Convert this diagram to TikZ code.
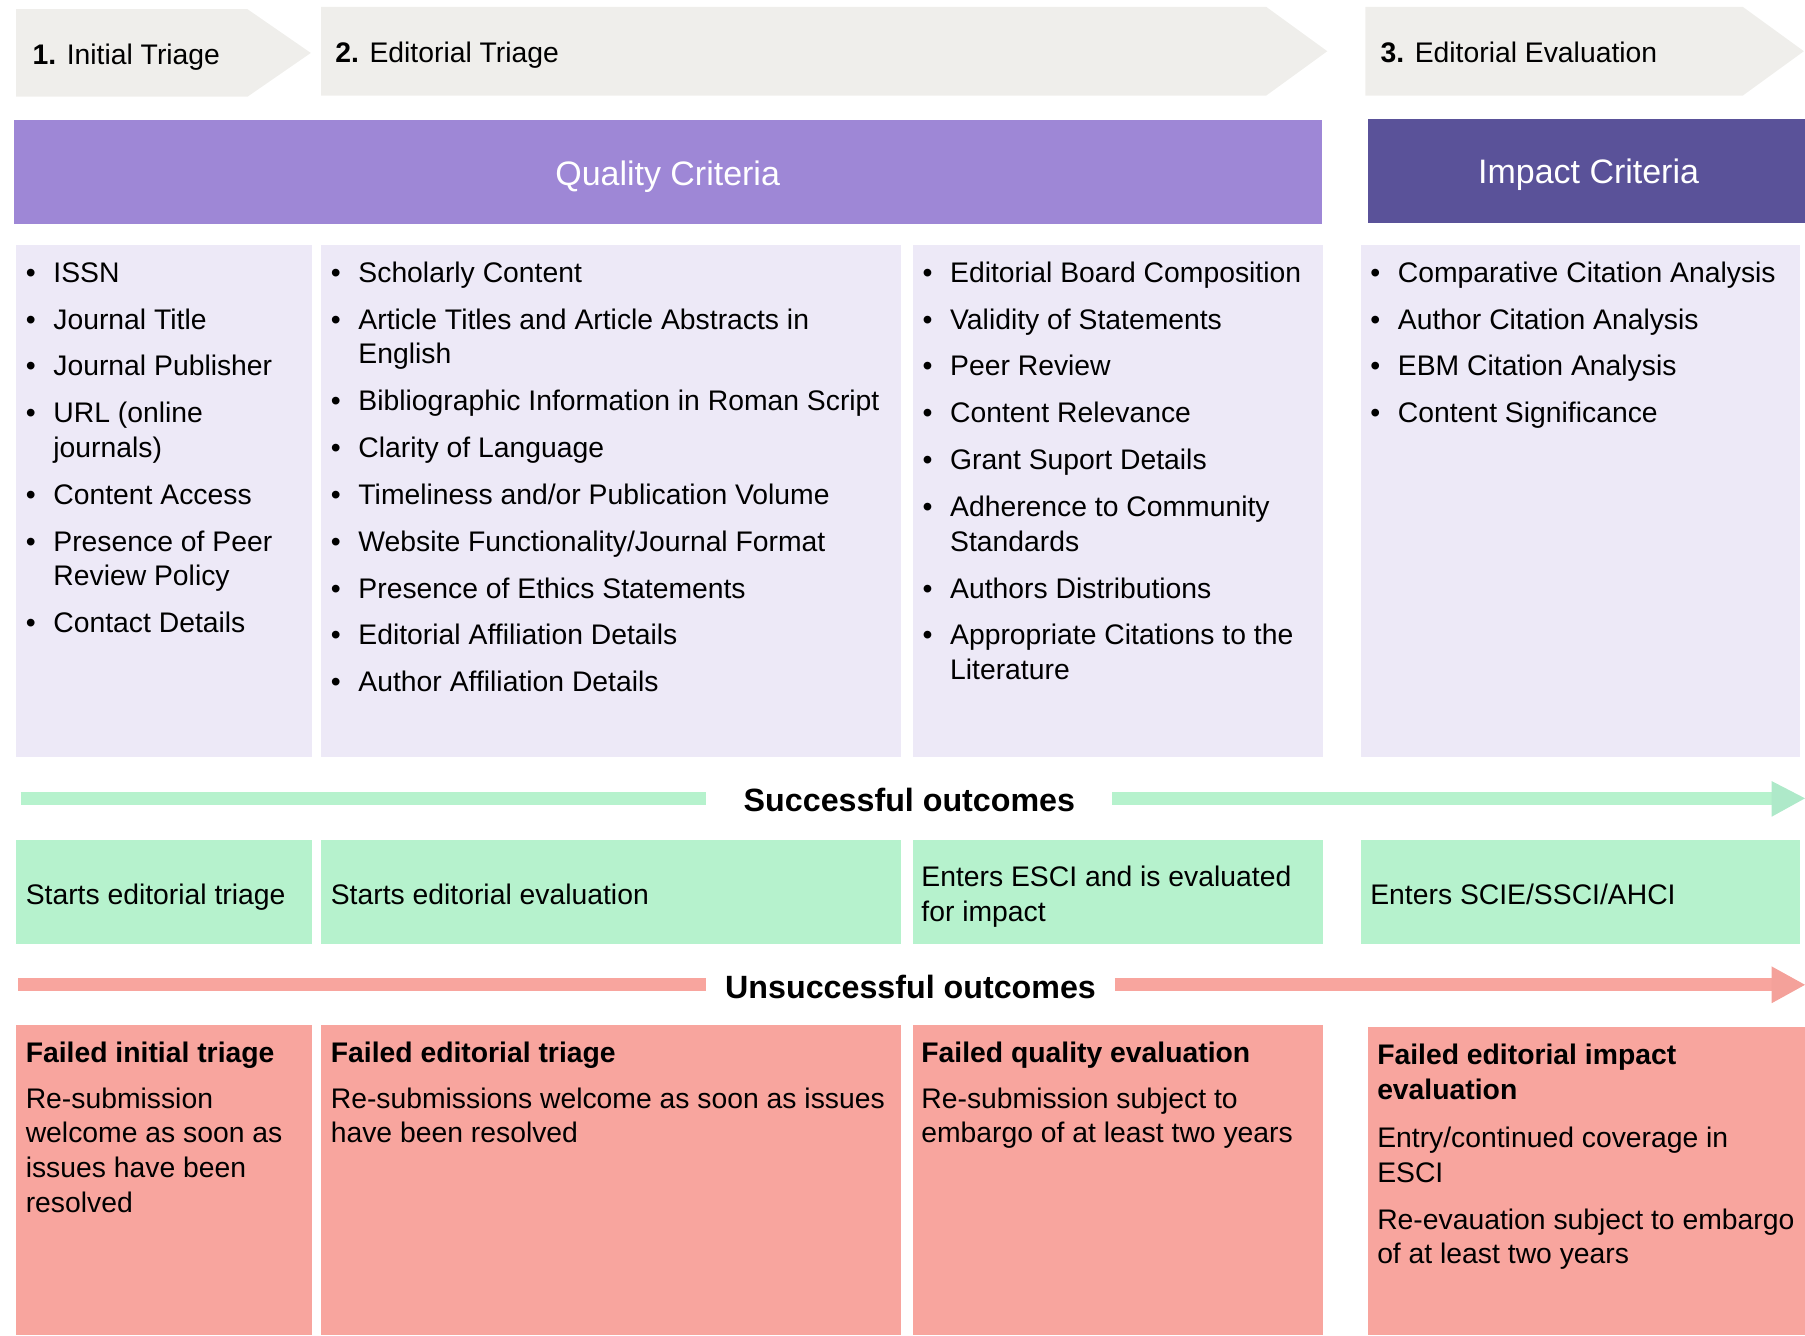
\documentclass[tikz,border=0pt]{standalone}
\usepackage{fontspec}
\setmainfont{Liberation Sans}
\definecolor{chev}{HTML}{EFEEEB}
\definecolor{qual}{HTML}{9E87D6}
\definecolor{imp}{HTML}{5A5299}
\definecolor{lav}{HTML}{EDE9F7}
\definecolor{grn}{HTML}{B6F2CD}
\definecolor{grnhead}{HTML}{AEE9C9}
\definecolor{rd}{HTML}{F8A59E}
\definecolor{rdhead}{HTML}{F4A19A}
\newcommand{\bi}{\makebox[12pt][l]{\textbullet}}
\newcommand{\bc}{\hspace*{12pt}}
\newcommand{\ig}{\\[5.37pt]}
\begin{document}
\begin{tikzpicture}[x=0.5pt,y=-0.5pt,
  txt/.style={font=\fontsize{12.3}{15}\selectfont, inner sep=0pt, align=left, text=black},
  hdr/.style={font=\fontsize{14.75}{18}\selectfont, inner sep=0pt, text=white},
  outl/.style={font=\fontsize{14}{17}\selectfont\bfseries, inner ysep=0pt, inner xsep=16pt, text=black},
  gbar/.style={draw=grn, line width=5.5pt},
  rbar/.style={draw=rd, line width=5.5pt}]
\useasboundingbox (0,0) rectangle (1568,1160);

% stage chevrons
\fill[chev] (14,8) -- (215,8) -- (270,46) -- (215,84) -- (14,84) -- cycle;
\fill[chev] (279,6) -- (1100,6) -- (1153,44.5) -- (1100,83) -- (279,83) -- cycle;
\fill[chev] (1186,6) -- (1514,6) -- (1567,44.5) -- (1514,83) -- (1186,83) -- cycle;
\node[txt, anchor=base west] (s1) at (28,56) {\textbf{1.} Initial Triage};
\node[txt, anchor=base west] (s2) at (291,54.5) {\textbf{2.} Editorial Triage};
\node[txt, anchor=base west] (s3) at (1199,54.5) {\textbf{3.} Editorial Evaluation};

% criteria headers
\fill[qual] (12,104) rectangle (1148,195);
\fill[imp] (1188,103) rectangle (1568,194);
\node[hdr, anchor=base] (qc) at (580,161.5) {Quality Criteria};
\node[hdr, anchor=base] (ic) at (1380,159.5) {Impact Criteria};

% criteria boxes
\fill[lav] (14,213) rectangle (271,658);
\fill[lav] (279,213) rectangle (783,658);
\fill[lav] (793,213) rectangle (1149,658);
\fill[lav] (1182,213) rectangle (1564,658);

\node[txt, anchor=north west] (l1) at (22,223.7) {\strut\bi ISSN\ig
\bi Journal Title\ig
\bi Journal Publisher\ig
\bi URL (online\\
\bc journals)\ig
\bi Content Access\ig
\bi Presence of Peer\\
\bc Review Policy\ig
\bi Contact Details};

\node[txt, anchor=north west] (l2) at (287,223.7) {\strut\bi Scholarly Content\ig
\bi Article Titles and Article Abstracts in\\
\bc English\ig
\bi Bibliographic Information in Roman Script\ig
\bi Clarity of Language\ig
\bi Timeliness and/or Publication Volume\ig
\bi Website Functionality/Journal Format\ig
\bi Presence of Ethics Statements\ig
\bi Editorial Affiliation Details\ig
\bi Author Affiliation Details};

\node[txt, anchor=north west] (l3) at (801,223.7) {\strut\bi Editorial Board Composition\ig
\bi Validity of Statements\ig
\bi Peer Review\ig
\bi Content Relevance\ig
\bi Grant Suport Details\ig
\bi Adherence to Community\\
\bc Standards\ig
\bi Authors Distributions\ig
\bi Appropriate Citations to the\\
\bc Literature};

\node[txt, anchor=north west] (l4) at (1190,223.7) {\strut\bi Comparative Citation Analysis\ig
\bi Author Citation Analysis\ig
\bi EBM Citation Analysis\ig
\bi Content Significance};

% successful outcomes arrow
\node[outl, anchor=base] (so) at (790,705) {Successful outcomes};
\coordinate (g0) at (18,693.5);
\coordinate (g3) at (1539,693.5);
\coordinate (gt) at (1568,693.5);
\draw[gbar] (g0) -- (g0 -| so.west);
\draw[gbar] (so.east |- g0) -- (g3);
\fill[grnhead] (1539,678.5) -- (gt) -- (1539,709.5) -- cycle;

% successful boxes
\fill[grn] (14,730) rectangle (271,820);
\fill[grn] (279,730) rectangle (783,820);
\fill[grn] (793,730) rectangle (1149,820);
\fill[grn] (1182,730) rectangle (1564,820);
\node[txt, anchor=base west] (o1) at (22,785.5) {Starts editorial triage};
\node[txt, anchor=base west] (o2) at (287,785.5) {Starts editorial evaluation};
\node[txt, anchor=west] (o3) at (800,779) {Enters ESCI and is evaluated\\for impact};
\node[txt, anchor=base west] (o4) at (1190,785.5) {Enters SCIE/SSCI/AHCI};

% unsuccessful outcomes arrow
\node[outl, anchor=base, inner xsep=8pt] (uo) at (791,867) {Unsuccessful outcomes};
\coordinate (r0) at (16,855.5);
\coordinate (r3) at (1539,855.5);
\coordinate (rt) at (1568,855.5);
\draw[rbar] (r0) -- (r0 -| uo.west);
\draw[rbar] (uo.east |- r0) -- (r3);
\fill[rdhead] (1539,839.5) -- (rt) -- (1539,871.5) -- cycle;

% unsuccessful boxes
\fill[rd] (14,890) rectangle (271,1160);
\fill[rd] (279,890) rectangle (783,1160);
\fill[rd] (793,890) rectangle (1149,1160);
\fill[rd] (1188,892) rectangle (1568,1160);
\node[txt, anchor=north west] (f1) at (22,901.5) {\strut\textbf{Failed initial triage}\\[5pt]
Re-submission\\welcome as soon as\\issues have been\\resolved};
\node[txt, anchor=north west] (f2) at (287,901.5) {\strut\textbf{Failed editorial triage}\\[5pt]
Re-submissions welcome as soon as issues\\have been resolved};
\node[txt, anchor=north west] (f3) at (800,901.5) {\strut\textbf{Failed quality evaluation}\\[5pt]
Re-submission subject to\\embargo of at least two years};
\node[txt, anchor=north west] (f4) at (1196,903.5) {\strut\textbf{Failed editorial impact}\\\textbf{evaluation}\\[6pt]
Entry/continued coverage in\\ESCI\\[5.5pt]
Re-evauation subject to embargo\\of at least two years};
\end{tikzpicture}
\end{document}
